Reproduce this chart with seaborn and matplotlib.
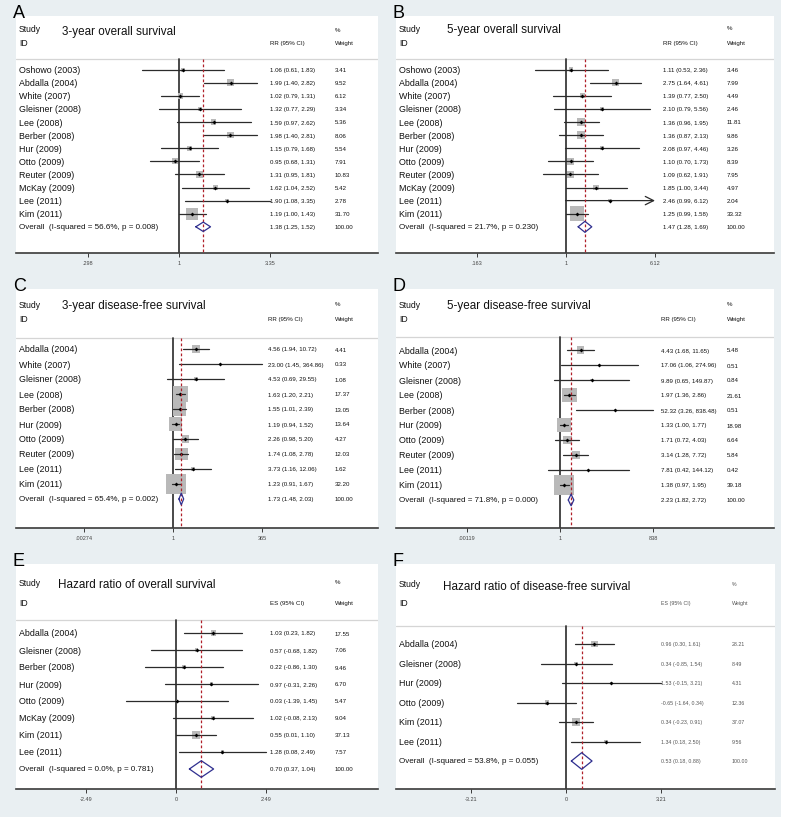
import numpy as np
import matplotlib
matplotlib.use("Agg")
import matplotlib.pyplot as plt
import matplotlib.transforms as mtransforms
from matplotlib.patches import Rectangle
from matplotlib.ticker import NullLocator
import seaborn as sns


# ------------------------------------------------------------
# Forest plots: survival after liver resection, six meta-analyses
# ------------------------------------------------------------

# A - 3-year overall survival (RR)
names_a = ["Oshowo (2003)", "Abdalla (2004)", "White (2007)", "Gleisner (2008)",
           "Lee (2008)", "Berber (2008)", "Hur (2009)", "Otto (2009)",
           "Reuter (2009)", "McKay (2009)", "Lee (2011)", "Kim (2011)"]
est_a = [1.06, 1.99, 1.02, 1.32, 1.59, 1.98, 1.15, 0.95, 1.31, 1.62, 1.90, 1.19]
lo_a = [0.61, 1.40, 0.79, 0.77, 0.97, 1.40, 0.79, 0.68, 0.95, 1.04, 1.08, 1.00]
hi_a = [1.83, 2.82, 1.31, 2.29, 2.62, 2.81, 1.68, 1.31, 1.81, 2.52, 3.35, 1.43]
wt_a = [3.41, 9.52, 6.12, 3.34, 5.36, 8.06, 5.54, 7.91, 10.83, 5.42, 2.78, 31.70]
overall_a = [1.38, 1.25, 1.52]
het_a = "I-squared = 56.6%, p = 0.008"
ticks_a = [0.298, 1, 3.35]
tick_labels_a = [".298", "1", "3.35"]

# B - 5-year overall survival (RR)
names_b = names_a
est_b = [1.11, 2.75, 1.39, 2.10, 1.36, 1.36, 2.08, 1.10, 1.09, 1.85, 2.46, 1.25]
lo_b = [0.53, 1.64, 0.77, 0.79, 0.96, 0.87, 0.97, 0.70, 0.62, 1.00, 0.99, 0.99]
hi_b = [2.36, 4.61, 2.50, 5.56, 1.95, 2.13, 4.46, 1.73, 1.91, 3.44, 6.12, 1.58]
wt_b = [3.46, 7.99, 4.49, 2.46, 11.81, 9.86, 3.26, 8.39, 7.95, 4.97, 2.04, 33.32]
overall_b = [1.47, 1.28, 1.69]
het_b = "I-squared = 21.7%, p = 0.230"
ticks_b = [0.163, 1, 6.12]
tick_labels_b = [".163", "1", "6.12"]
arrows_b = ["Lee (2011)"]

# C - 3-year disease-free survival (RR)
names_c = ["Abdalla (2004)", "White (2007)", "Gleisner (2008)", "Lee (2008)",
           "Berber (2008)", "Hur (2009)", "Otto (2009)", "Reuter (2009)",
           "Lee (2011)", "Kim (2011)"]
est_c = [4.56, 23.00, 4.53, 1.63, 1.55, 1.19, 2.26, 1.74, 3.73, 1.23]
lo_c = [1.94, 1.45, 0.69, 1.20, 1.01, 0.94, 0.98, 1.08, 1.16, 0.91]
hi_c = [10.72, 364.86, 29.55, 2.21, 2.39, 1.52, 5.20, 2.78, 12.06, 1.67]
wt_c = [4.41, 0.33, 1.08, 17.37, 13.05, 13.64, 4.27, 12.03, 1.62, 32.20]
overall_c = [1.73, 1.48, 2.03]
het_c = "I-squared = 65.4%, p = 0.002"
ticks_c = [0.00274, 1, 365]
tick_labels_c = [".00274", "1", "365"]

# D - 5-year disease-free survival (RR)
names_d = names_c
est_d = [4.43, 17.06, 9.89, 1.97, 52.32, 1.33, 1.71, 3.14, 7.81, 1.38]
lo_d = [1.68, 1.06, 0.65, 1.36, 3.26, 1.00, 0.72, 1.28, 0.42, 0.97]
hi_d = [11.65, 274.96, 149.87, 2.86, 838.48, 1.77, 4.03, 7.72, 144.12, 1.95]
wt_d = [5.48, 0.51, 0.84, 21.61, 0.51, 18.98, 6.64, 5.84, 0.42, 39.18]
overall_d = [2.23, 1.82, 2.72]
het_d = "I-squared = 71.8%, p = 0.000"
ticks_d = [0.00119, 1, 838]
tick_labels_d = [".00119", "1", "838"]

# E - hazard ratio of overall survival (ES)
names_e = ["Abdalla (2004)", "Gleisner (2008)", "Berber (2008)", "Hur (2009)",
           "Otto (2009)", "McKay (2009)", "Kim (2011)", "Lee (2011)"]
est_e = [1.03, 0.57, 0.22, 0.97, 0.03, 1.02, 0.55, 1.28]
lo_e = [0.23, -0.68, -0.86, -0.31, -1.39, -0.08, 0.01, 0.08]
hi_e = [1.82, 1.82, 1.30, 2.26, 1.45, 2.13, 1.10, 2.49]
wt_e = [17.55, 7.06, 9.46, 6.70, 5.47, 9.04, 37.13, 7.57]
overall_e = [0.70, 0.37, 1.04]
het_e = "I-squared = 0.0%, p = 0.781"
ticks_e = [-2.49, 0, 2.49]
tick_labels_e = ["-2.49", "0", "2.49"]

# F - hazard ratio of disease-free survival (ES)
names_f = ["Abdalla (2004)", "Gleisner (2008)", "Hur (2009)", "Otto (2009)",
           "Kim (2011)", "Lee (2011)"]
est_f = [0.96, 0.34, 1.53, -0.65, 0.34, 1.34]
lo_f = [0.30, -0.85, -0.15, -1.64, -0.23, 0.18]
hi_f = [1.61, 1.54, 3.21, 0.34, 0.91, 2.50]
wt_f = [28.21, 8.49, 4.31, 12.36, 37.07, 9.56]
overall_f = [0.53, 0.18, 0.88]
het_f = "I-squared = 53.8%, p = 0.055"
ticks_f = [-3.21, 0, 3.21]
tick_labels_f = ["-3.21", "0", "3.21"]


W, H = 787, 828
BG = "#e9eff2"
SQUARE = "#b9b9b9"
CI_COLOR = "#2b2b2b"
NULL_COLOR = "#3a3a3a"
RED = "#b0202a"
NAVY = "#2f2f8f"
TEXT = "#111111"

sns.set_theme(style="white")
plt.rcParams["font.family"] = ["Liberation Sans", "DejaVu Sans"]
plt.rcParams["text.color"] = TEXT


def draw_forest(fig, p):
    left, right, top, bottom = p["box"]
    study_px, id_px, sep_px, row0, sp = p["rows"]

    ax = fig.add_axes([left / W, 1 - bottom / H, (right - left) / W, (bottom - top) / H])
    ax.set_facecolor("white")
    ax.set_zorder(2)

    # x mapping: pixel positions of the null line and the last tick
    null_val = 1 if p["log"] else 0
    if p["log"]:
        k = (p["tick_px"] - p["null_px"]) / np.log(p["ticks"][-1])
        ax.set_xscale("log")
        ax.set_xlim(np.exp((left - p["null_px"]) / k), np.exp((right - p["null_px"]) / k))
    else:
        u = p["ticks"][-1] / (p["tick_px"] - p["null_px"])
        ax.set_xlim((left - p["null_px"]) * u, (right - p["null_px"]) * u)

    def yr(px):
        return (px - row0) / sp

    ax.set_ylim(yr(bottom), yr(top))

    n = len(p["names"])
    rows = np.arange(n)

    # header separator, null line, overall line
    ax.axhline(yr(sep_px), color="#d5d5d5", lw=0.9, zorder=1)
    ax.plot([null_val, null_val], [yr(sep_px), yr(bottom)], color=NULL_COLOR, lw=1.3, zorder=2)
    ax.plot([p["overall"][0]] * 2, [yr(sep_px), yr(bottom)], color=RED, lw=0.9,
            dashes=(2.2, 1.8), zorder=5)

    # weight squares (area proportional to weight)
    smax = (0.72 * p["k"]) ** 2 * 100
    sns.scatterplot(x=p["est"], y=rows, size=p["wt"], sizes=(0, smax), size_norm=(0, 100),
                    marker="s", color=SQUARE, linewidth=0, legend=False, ax=ax, zorder=2)

    # confidence intervals
    for i in range(n):
        if p["names"][i] in p.get("arrows", []):
            ax.annotate("", xy=(p["hi"][i], i), xytext=(p["lo"][i], i),
                        arrowprops=dict(arrowstyle="->,head_length=0.5,head_width=0.25",
                                        color=CI_COLOR, lw=0.9, shrinkA=0, shrinkB=0),
                        zorder=3)
        else:
            ax.plot([p["lo"][i], p["hi"][i]], [i, i], color=CI_COLOR, lw=0.9, zorder=3)

    sns.scatterplot(x=p["est"], y=rows, marker="D", s=4, color="black", linewidth=0,
                    legend=False, ax=ax, zorder=4)

    # overall diamond
    est, lo, hi = p["overall"]
    dh = p["dh"] / sp
    ax.plot([lo, est, hi, est, lo], [n, n - dh, n, n + dh, n], color=NAVY, lw=0.9, zorder=6)

    # axis styling
    for side in ["top", "left", "right"]:
        ax.spines[side].set_visible(False)
    ax.spines["bottom"].set_color("#3a3a3a")
    ax.spines["bottom"].set_linewidth(1.2)
    ax.set_yticks([])
    ax.set_xticks(p["ticks"])
    ax.set_xticklabels(p["tick_labels"])
    ax.xaxis.set_minor_locator(NullLocator())
    ax.tick_params(axis="x", length=3, width=0.7, color="#3a3a3a", pad=2,
                   labelsize=4, labelcolor="#444444", bottom=True)

    # text columns
    tr = mtransforms.blended_transform_factory(ax.transAxes, ax.transData)

    def fx(px):
        return (px - left) / (right - left)

    name_x = fx(left + 3)
    small = p.get("small", 4.4)
    small_col = p.get("small_color", TEXT)
    ax.text(name_x, yr(study_px), "Study", transform=tr, fontsize=6.2, va="center")
    ax.text(name_x, yr(id_px), "ID", transform=tr, fontsize=6.2, va="center")
    ax.text(fx(p["title_x"]), yr(study_px + 1.5), p["title"], transform=tr, fontsize=8.4,
            va="center")
    ax.text(fx(p["ci_x"]), yr(id_px), p["stat"], transform=tr, fontsize=small, va="center",
            color=small_col)
    ax.text(fx(p["wt_x"]), yr(study_px), "%", transform=tr, fontsize=small, va="center",
            color=small_col)
    ax.text(fx(p["wt_x"]), yr(id_px), "Weight", transform=tr, fontsize=small, va="center",
            color=small_col)

    for i in range(n):
        ax.text(name_x, i, p["names"][i], transform=tr, fontsize=6.4, va="center")
        ax.text(fx(p["ci_x"]), i, f"{p['est'][i]:.2f} ({p['lo'][i]:.2f}, {p['hi'][i]:.2f})",
                transform=tr, fontsize=small, va="center", color=small_col)
        ax.text(fx(p["wt_x"]), i, f"{p['wt'][i]:.2f}", transform=tr, fontsize=small,
                va="center", color=small_col)

    ax.text(name_x, n, f"Overall  ({p['het']})", transform=tr, fontsize=5.8, va="center")
    ax.text(fx(p["ci_x"]), n, f"{est:.2f} ({lo:.2f}, {hi:.2f})", transform=tr,
            fontsize=small, va="center", color=small_col)
    ax.text(fx(p["wt_x"]), n, "100.00", transform=tr, fontsize=small, va="center",
            color=small_col)

    # panel letter
    fig.text((left - 3) / W, 1 - (top + 1) / H, p["letter"], fontsize=13, va="baseline",
             ha="left", color="black", zorder=3)


panels = [
    dict(letter="A", title="3-year overall survival", names=names_a, est=est_a, lo=lo_a,
         hi=hi_a, wt=wt_a, overall=overall_a, het=het_a, ticks=ticks_a,
         tick_labels=tick_labels_a, stat="RR (95% CI)", log=True,
         box=(16, 378, 17, 254), rows=(30, 44, 60, 70.6, 13.1), null_px=179, tick_px=270,
         title_x=62, ci_x=270, wt_x=335, k=2.2, dh=4.7),
    dict(letter="B", title="5-year overall survival", names=names_b, est=est_b, lo=lo_b,
         hi=hi_b, wt=wt_b, overall=overall_b, het=het_b, ticks=ticks_b,
         tick_labels=tick_labels_b, stat="RR (95% CI)", log=True, arrows=arrows_b,
         box=(396, 774, 17, 254), rows=(29, 43, 60, 70.6, 13.1), null_px=566, tick_px=655,
         title_x=447, ci_x=663, wt_x=727, k=2.5, dh=5.5),
    dict(letter="C", title="3-year disease-free survival", names=names_c, est=est_c, lo=lo_c,
         hi=hi_c, wt=wt_c, overall=overall_c, het=het_c, ticks=ticks_c,
         tick_labels=tick_labels_c, stat="RR (95% CI)", log=True,
         box=(16, 378, 290, 529), rows=(305, 319, 339, 350, 15), null_px=173, tick_px=262,
         title_x=62, ci_x=268, wt_x=335, k=3.65, dh=5.8),
    dict(letter="D", title="5-year disease-free survival", names=names_d, est=est_d, lo=lo_d,
         hi=hi_d, wt=wt_d, overall=overall_d, het=het_d, ticks=ticks_d,
         tick_labels=tick_labels_d, stat="RR (95% CI)", log=True,
         box=(396, 774, 290, 529), rows=(305, 319, 338, 351, 15), null_px=560, tick_px=653,
         title_x=447, ci_x=661, wt_x=727, k=3.2, dh=5.8),
    dict(letter="E", title="Hazard ratio of overall survival", names=names_e, est=est_e,
         lo=lo_e, hi=hi_e, wt=wt_e, overall=overall_e, het=het_e, ticks=ticks_e,
         tick_labels=tick_labels_e, stat="ES (95% CI)", log=False,
         box=(16, 378, 565, 790), rows=(583, 603, 621, 634, 17), null_px=176, tick_px=266,
         title_x=58, ci_x=270, wt_x=335, k=1.2, dh=8.3),
    dict(letter="F", title="Hazard ratio of disease-free survival", names=names_f, est=est_f,
         lo=lo_f, hi=hi_f, wt=wt_f, overall=overall_f, het=het_f, ticks=ticks_f,
         tick_labels=tick_labels_f, stat="ES (95% CI)", log=False,
         box=(396, 775, 565, 790), rows=(585, 604, 627, 645, 19.5), null_px=566, tick_px=661,
         title_x=443, ci_x=661, wt_x=732, k=1.26, dh=8.3, small=3.8, small_color="#555555"),
]


def main():
    fig = plt.figure(figsize=(W / 100, H / 100), dpi=100, facecolor="white")
    bg = Rectangle((0, 1 - 818 / H), 781 / W, 818 / H, transform=fig.transFigure,
                   facecolor=BG, edgecolor="none", zorder=-10)
    fig.add_artist(bg)
    for p in panels:
        draw_forest(fig, p)
    fig.savefig("out.png", dpi=100, facecolor="white")


if __name__ == "__main__":
    main()
